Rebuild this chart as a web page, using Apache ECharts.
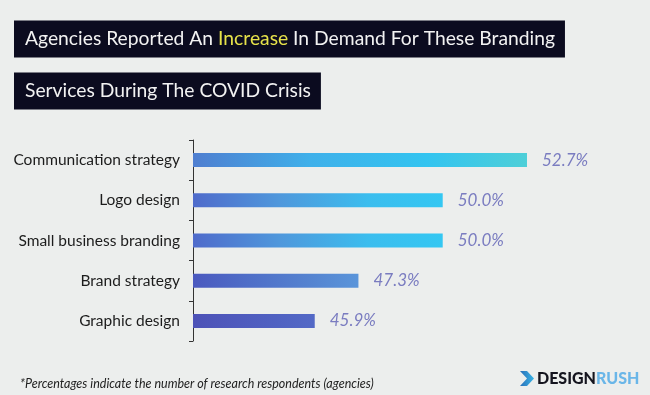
<!DOCTYPE html>
<html><head><meta charset="utf-8">
<script src="https://cdn.jsdelivr.net/npm/echarts@6/dist/echarts.min.js"></script>
<style>html,body{margin:0;padding:0;background:#eceeed;}#c{width:650px;height:395px;}</style>
</head><body><div id="c"></div>
<script>
var categories = ['Communication strategy','Logo design','Small business branding','Brand strategy','Graphic design'];
var values = [52.7, 50.0, 50.0, 47.3, 45.9];
var titleLine1 = ['Agencies Reported An ', 'Increase', ' In Demand For These Branding'];
var titleLine2 = 'Services During The COVID Crisis';
var footnote = '*Percentages indicate the number of research respondents (agencies)';

var barGradients = [
  ['#4f7ed0', '#3fb0ea', '#33c4f0', '#4ecfd8'],
  ['#4f6bcb', '#4f98dc', '#3bbdee', '#34c7f2'],
  ['#4f6bcb', '#4f98dc', '#3bbdee', '#34c7f2'],
  ['#4b59bf', '#4f6fc8', '#5583d0', '#5a95da'],
  ['#4d52b7', '#4f5abd', '#5062c2', '#5369c6']
];
function grad(c){
  return new echarts.graphic.LinearGradient(0,0,1,0,[
    {offset:0,color:c[0]},{offset:0.35,color:c[1]},{offset:0.7,color:c[2]},{offset:1,color:c[3]}]);
}
var chart = echarts.init(document.getElementById('c'));
chart.setOption({
  backgroundColor:'#eceeed',
  animation:false,
  title:[{
    left:14, top:17, padding:[9,10,9,11], backgroundColor:'#0b0b1f',
    text:'{a|'+titleLine1[0]+'}{b|'+titleLine1[1]+'}{a|'+titleLine1[2]+'}',
    textStyle:{fontWeight:'normal',rich:{
      a:{fontFamily:'Lato',fontWeight:'normal',fontSize:19.3,color:'#f2f2f2',lineHeight:26},
      b:{fontFamily:'Lato',fontWeight:'normal',fontSize:19.3,color:'#e6e24a',lineHeight:26}}}
  },{
    left:14, top:69, padding:[9,10,9,11], backgroundColor:'#0b0b1f',
    text:'{a|'+titleLine2+'}',
    textStyle:{fontWeight:'normal',rich:{a:{fontFamily:'Lato',fontWeight:'normal',fontSize:19.3,color:'#f2f2f2',lineHeight:26}}}
  },{
    left:15, top:372, text:footnote,
    textStyle:{fontFamily:'Lato',fontStyle:'italic',fontWeight:'normal',fontSize:12.5,color:'#222'}
  }],
  grid:{left:193,right:20,top:140,bottom:54},
  xAxis:{type:'value',min:42,max:56,show:false},
  yAxis:{type:'category',data:categories,inverse:true,
    axisLine:{lineStyle:{color:'#333',width:1}},
    axisTick:{show:true,length:4,lineStyle:{color:'#333'}},
    axisLabel:{fontFamily:'Lato',fontSize:15.5,color:'#1c1c1c',margin:13}},
  series:[{type:'bar',barWidth:14,
    data:values.map(function(v,i){return {value:v,itemStyle:{color:grad(barGradients[i])}};}),
    label:{show:true,position:'right',distance:15,fontFamily:'Lato',fontStyle:'italic',fontSize:17,color:'#7a7cc0',
      formatter:function(p){return p.value.toFixed(1)+'%';}}
  }],
  graphic:[
    {type:'polygon',shape:{points:[[520,371],[527,371],[534,378.5],[527,386],[520,386],[527,378.5]]},
      style:{fill:new echarts.graphic.LinearGradient(0,0,1,0,[{offset:0,color:'#2a6fb8'},{offset:1,color:'#39b4e6'}])}},
    {type:'text',left:537,top:370.5,style:{text:'{d|DESIGN}{r|RUSH}',
      rich:{d:{fontFamily:'Lato',fontWeight:900,fontSize:16,fill:'#15151f'},
            r:{fontFamily:'Lato',fontWeight:900,fontSize:16,fill:'#6ab6e8'}}}}
  ]
});
</script></body></html>
